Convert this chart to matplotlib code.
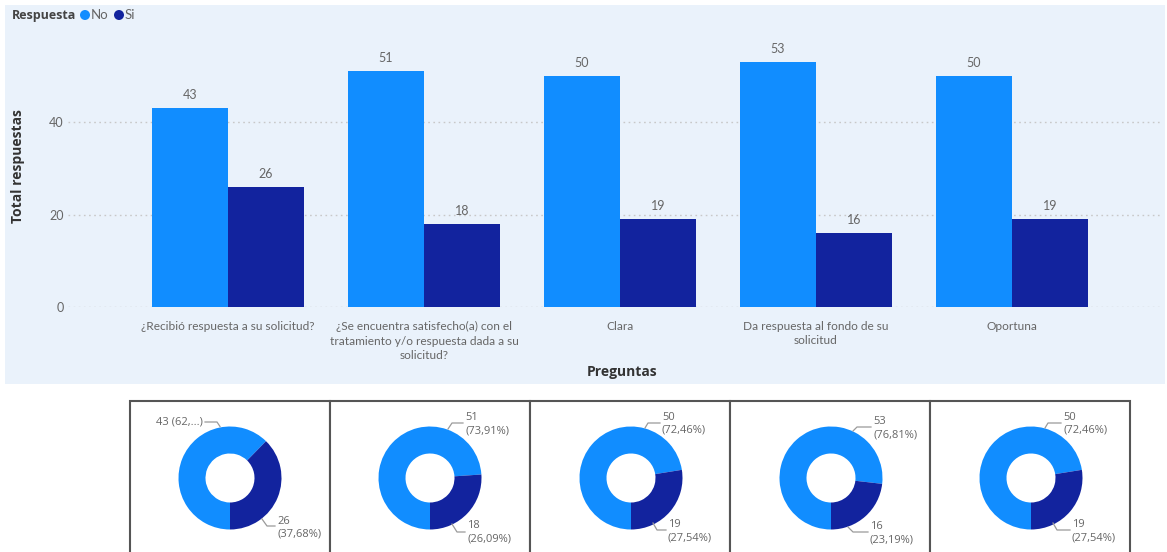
import matplotlib
matplotlib.use("Agg")
import matplotlib.pyplot as plt
from matplotlib.patches import Rectangle, Ellipse
import numpy as np

plt.rcParams['font.family'] = ['Open Sans', 'DejaVu Sans']

# ---- data ----
categories = [
    "¿Recibió respuesta a su solicitud?",
    "¿Se encuentra satisfecho(a) con el\ntratamiento y/o respuesta dada a su\nsolicitud?",
    "Clara",
    "Da respuesta al fondo de su\nsolicitud",
    "Oportuna",
]
series_names = ["No", "Si"]
no_vals = [43, 51, 50, 53, 50]
si_vals = [26, 18, 19, 16, 19]
y_ticks = [0, 20, 40]

# ---- style ----
C_NO = "#118DFF"
C_SI = "#12239E"
PANEL_BG = "#EAF2FB"
TXT_GRAY = "#666666"
TXT_DARK = "#333333"
LABEL_FONT = ['Lato', 'DejaVu Sans']

W, H = 1167, 552
fig = plt.figure(figsize=(W / 100, H / 100), dpi=100)
fig.patch.set_facecolor("white")


def fx(x):
    return x / W


def fy(y):
    return 1 - y / H


# panel background behind the bar chart
fig.patches.append(Rectangle((fx(5), fy(384)), fx(1160), 379 / H,
                             transform=fig.transFigure, facecolor=PANEL_BG,
                             edgecolor="none", zorder=-5))

# ---- bar chart ----
ax_l, ax_r, ax_t, ax_b = 68, 1160, 39, 307
ax = fig.add_axes([fx(ax_l), fy(ax_b), (ax_r - ax_l) / W, (ax_b - ax_t) / H],
                  zorder=1)
ax.set_facecolor("none")
x = np.arange(len(categories))
bw = 0.388
bars_no = ax.bar(x - bw / 2, no_vals, bw, color=C_NO, zorder=3)
bars_si = ax.bar(x + bw / 2, si_vals, bw, color=C_SI, zorder=3)
ax.set_xlim(-0.816, 4.755)
ax.set_ylim(0, 58)
ax.set_yticks(y_ticks)
ax.set_yticklabels([str(t) for t in y_ticks], color=TXT_GRAY, fontsize=9,
                   family=LABEL_FONT)
ax.set_xticks(x)
ax.set_xticklabels(categories, color=TXT_GRAY, fontsize=8.6, va="top",
                   linespacing=1.4, family=LABEL_FONT)
ax.tick_params(axis="both", length=0)
ax.tick_params(axis="x", pad=10)
ax.tick_params(axis="y", pad=3)
for s in ax.spines.values():
    s.set_visible(False)
ax.grid(axis="y", color="#C8C8C8", linestyle=(0, (1.2, 2.5)), linewidth=1,
        zorder=1)
ax.set_axisbelow(True)

for bars, vals in ((bars_no, no_vals), (bars_si, si_vals)):
    for b, v in zip(bars, vals):
        ax.annotate(str(v), (b.get_x() + b.get_width() / 2, v),
                    xytext=(0, 9.5), textcoords="offset points",
                    ha="center", va="center", color=TXT_GRAY, fontsize=9,
                    family=LABEL_FONT)

fig.text(fx(18), fy(166), "Total respuestas", rotation=90, ha="center",
         va="center", fontsize=10, fontweight="bold", color=TXT_DARK)
fig.text(fx(622), fy(372), "Preguntas", ha="center", va="center",
         fontsize=10, fontweight="bold", color=TXT_DARK)

# legend
fig.text(fx(12), fy(15), "Respuesta", ha="left", va="center", fontsize=9,
         fontweight="bold", color="#444444")
for cx, lab, col in ((85, series_names[0], C_NO), (119, series_names[1], C_SI)):
    fig.patches.append(Ellipse((fx(cx), fy(15)), 10 / W, 10 / H,
                               transform=fig.transFigure,
                               facecolor=col, edgecolor="none"))
    fig.text(fx(cx + 6), fy(15), lab, ha="left", va="center", fontsize=9.5,
             color=TXT_GRAY, family=LABEL_FONT)

# ---- donut panels ----
box_left = [130, 330, 530, 730, 930]
box_w = 200
box_top = 401
centers_dx = [0, 0, 1, 1, 1]

# label layout per donut (offsets from donut centre, pixels, y up)
no_text_xy = [(-27, 56), (35, 53.5), (31, 54.5), (42, 49.5), (32, 54.5)]
no_ha = ["right", "left", "left", "left", "left"]
no_leader = [[(-10, 51.5), (-13, 56), (-25, 56)],
             [(18, 49), (22, 55), (33, 55)],
             [(14, 50), (17, 55), (29, 55)],
             [(22, 47), (26, 51), (40, 51)],
             [(14, 50), (17, 55), (30, 55)]]
no_trunc = [True, False, False, False, False]
si_text_xy = [(47, -50), (37, -54.5), (37, -53), (39, -55), (41, -53)]
si_leader = [[(32, -41), (37, -48), (45, -48)],
             [(22, -46), (27, -54), (35, -54)],
             [(22, -45), (26, -52), (35, -52)],
             [(17, -49), (22, -54), (37, -54)],
             [(22, -45), (26, -52), (39, -52)]]


def pct(v, total):
    return f"{100 * v / total:.2f}".replace(".", ",") + "%"


R_OUT, R_IN = 51.5, 24.5
for i in range(len(categories)):
    bl = box_left[i]
    # frame
    fig.patches.append(Rectangle((fx(bl), fy(H + 20)), box_w / W, (H + 20 - box_top) / H,
                                 transform=fig.transFigure, facecolor="white",
                                 edgecolor="#555555", linewidth=1.5, zorder=-1))
    cx = bl + box_w / 2 + centers_dx[i]
    cy = 478
    axd = fig.add_axes([fx(cx - 100), fy(cy + 74), 200 / W, 152 / H], zorder=2)
    vals = [no_vals[i], si_vals[i]]
    total = sum(vals)
    axd.pie(vals, colors=[C_NO, C_SI], startangle=270, counterclock=False,
            radius=R_OUT, wedgeprops=dict(width=R_OUT - R_IN, edgecolor="none"),
            center=(0, 0), frame=True)
    axd.set_xlim(-100, 100)
    axd.set_ylim(-74, 78)
    axd.set_aspect("equal")
    axd.axis("off")

    # "No" label
    if no_trunc[i]:
        no_lab = f"{vals[0]} ({pct(vals[0], total)[:2]},...)"
    else:
        no_lab = f"{vals[0]}\n({pct(vals[0], total)})"
    tx, ty = no_text_xy[i]
    axd.text(tx, ty, no_lab, ha=no_ha[i], va="center", fontsize=8,
             color=TXT_GRAY, linespacing=1.25, clip_on=False)
    lx, ly = zip(*no_leader[i])
    axd.plot(lx, ly, color="#9A9A9A", lw=0.9, clip_on=False)

    # "Si" label
    si_lab = f"{vals[1]}\n({pct(vals[1], total)})"
    tx, ty = si_text_xy[i]
    axd.text(tx, ty, si_lab, ha="left", va="center", fontsize=8,
             color=TXT_GRAY, linespacing=1.25, clip_on=False)
    lx, ly = zip(*si_leader[i])
    axd.plot(lx, ly, color="#9A9A9A", lw=0.9, clip_on=False)

fig.savefig("out.png", dpi=100, facecolor="white")
